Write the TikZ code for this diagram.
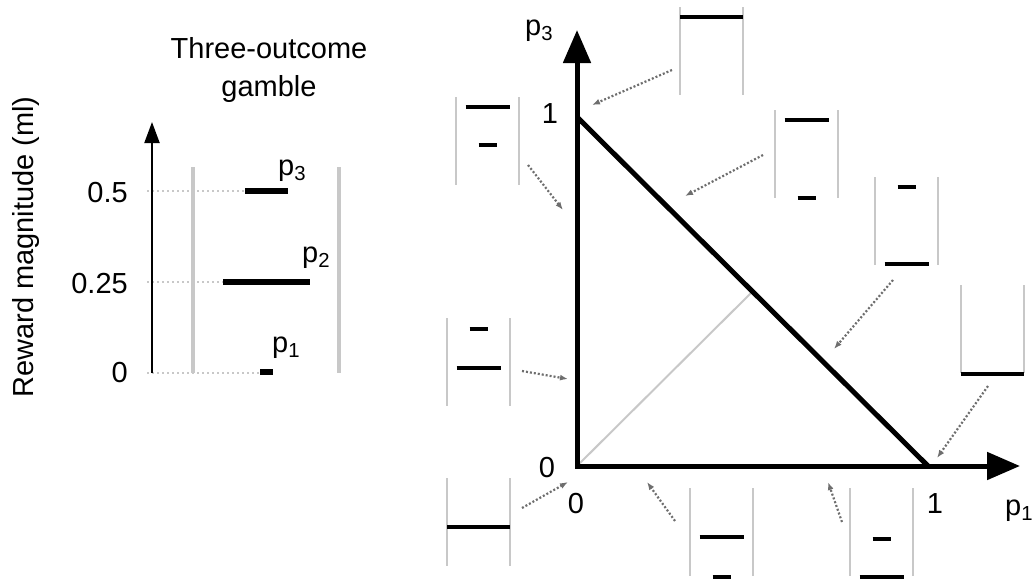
\documentclass[tikz,border=0pt]{standalone}
\usepackage{fontspec}
\setmainfont{Liberation Sans}
\usetikzlibrary{arrows.meta}
\definecolor{gri}{HTML}{C8C8C8}
\definecolor{grinchis}{HTML}{6E6E6E}
\tikzset{
  scris/.style     = {font=\fontsize{29}{38}\selectfont, inner sep=0pt},
  axa/.style       = {{Triangle[length=33pt,width=27pt]}-{Triangle[length=33pt,width=27pt]},
                      line width=5pt, line join=miter},
  axamica/.style   = {-{Triangle[length=21pt,width=15pt]}, line width=2pt},
  latura/.style    = {line width=5pt},
  ghid/.style      = {gri, line width=2pt, dash pattern=on 2pt off 3pt},
  perete/.style    = {gri, line width=2.5pt},
  bara/.style      = {line width=4pt},
  indicator/.style = {grinchis, line width=2.2pt, dash pattern=on 2pt off 2pt,
                      -{Latex[length=8pt,width=6pt]}},
  pics/joc/.style  = {code={
      \draw[perete] (0,0) -- (0,88) (63,0) -- (63,88);
      \foreach \h/\w in {#1} \draw[bara] (31.5-\w/2,\h) -- ++(\w,0);
  }}
}
\begin{document}
\begin{tikzpicture}[x=1pt, y=-1pt]
  \useasboundingbox (0,0) rectangle (1033,581);

  % stanga: loteria cu trei rezultate
  \node[scris, align=center, anchor=north] (titlu) at (269,37) {Three-outcome\\gamble};
  \node[scris, rotate=90, anchor=base] (axay) at (33,247) {Reward magnitude (ml)};
  \node[scris, anchor=base east] (t50) at (128,202) {0.5};
  \node[scris, anchor=base east] (t25) at (128,293) {0.25};
  \node[scris, anchor=base east] (t0) at (128,382) {0};
  \coordinate (a0) at (152,373);
  \coordinate (atip) at (152,122);
  \draw[ghid] (147,191) -- (245,191) (147,282) -- (223,282) (147,373) -- (260,373);
  \draw[axamica] (a0) -- (atip);
  \draw[perete, line width=4pt] (193,167) -- (193,373) (339,167) -- (339,373);
  \draw[bara, line width=6pt] (245,191) -- (288,191) (223,282) -- (310,282) (260,372) -- (273,372);
  \node[scris, anchor=base west] (q3) at (278,175) {p\textsubscript{3}};
  \node[scris, anchor=base west] (q2) at (302,262) {p\textsubscript{2}};
  \node[scris, anchor=base west] (q1) at (272,352) {p\textsubscript{1}};

  % dreapta: triunghiul probabilitatilor
  \coordinate (o) at (577,466);
  \coordinate (v3) at (577,117);
  \coordinate (v1) at (928,466);
  \coordinate (m) at (752.5,291.5);
  \coordinate (sus) at (577,30);
  \coordinate (dr) at (1020,466);
  \draw[gri, line width=2pt] (o) -- (m);
  \draw[axa] (sus) -- (o) -- (dr);
  \draw[latura] (v3) -- (v1);
  \node[scris, anchor=base west] (px3) at (525,35) {p\textsubscript{3}};
  \node[scris, anchor=base west] (px1) at (1005,515) {p\textsubscript{1}};
  \node[scris, anchor=base] (u3) at (550,123) {1};
  \node[scris, anchor=base] (z3) at (547,477) {0};
  \node[scris, anchor=base] (z1) at (576,513) {0};
  \node[scris, anchor=base] (u1) at (935,513) {1};

  % loterii mici
  \pic at (680,7)   {joc={10/63}};
  \pic at (456,97)  {joc={10/44,48/18}};
  \pic at (775,110) {joc={10/44,88/18}};
  \pic at (875,177) {joc={10/18,87/44}};
  \pic at (961,285) {joc={89/63}};
  \pic at (447,318) {joc={11/18,50/44}};
  \pic at (447,478) {joc={49/63}};
  \pic at (690,488) {joc={49/44,89/18}};
  \pic at (850,488) {joc={51/18,89/44}};

  \coordinate (s1) at (672,70);  \coordinate (e1) at (592,105);
  \coordinate (s2) at (528,165); \coordinate (e2) at (563,210);
  \coordinate (s3) at (763,155); \coordinate (e3) at (685,196);
  \coordinate (s4) at (893,280); \coordinate (e4) at (834,349);
  \coordinate (s5) at (988,386); \coordinate (e5) at (937,458);
  \coordinate (s6) at (522,371); \coordinate (e6) at (568,379);
  \coordinate (s7) at (522,508); \coordinate (e7) at (568,482);
  \coordinate (s8) at (675,521); \coordinate (e8) at (647,482);
  \coordinate (s9) at (842,522); \coordinate (e9) at (828,482);
  \foreach \i in {1,...,9}
    \draw[indicator] (s\i) -- (e\i);
\end{tikzpicture}
\end{document}
